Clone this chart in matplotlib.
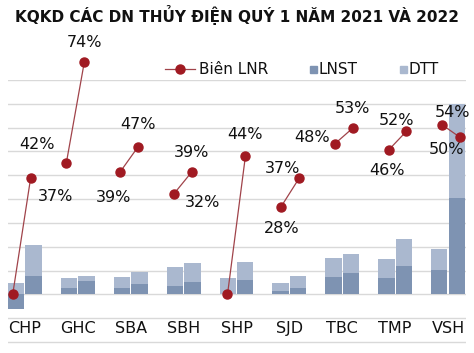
import matplotlib
matplotlib.use("Agg")
import matplotlib.pyplot as plt
from matplotlib.lines import Line2D
from matplotlib.patches import Rectangle
import numpy as np

# ---- data ----
companies = ["CHP", "GHC", "SBA", "SBH", "SHP", "SJD", "TBC", "TMP", "VSH"]
years = ["2021", "2022"]
dtt_2021 = [46, 68, 73, 113, 71, 49, 154, 149, 189]      # revenue
dtt_2022 = [208, 78, 94, 130, 137, 77, 168, 233, 800]
lnst_2021 = [-63, 29, 28, 36, 0, 14, 74, 69, 102]       # net profit
lnst_2022 = [77, 58, 44, 51, 60, 28, 89, 121, 403]
margin_2021 = [0, 42, 39, 32, 0, 28, 48, 46, 54]        # Biên LNR (%)
margin_2022 = [37, 74, 47, 39, 44, 37, 53, 52, 50]
margin_label_2021 = [None, "42%", "39%", "32%", None, "28%", "48%", "46%", "54%"]
margin_label_2022 = ["37%", "74%", "47%", "39%", "44%", "37%", "53%", "52%", "50%"]
legend_labels = ["Biên LNR", "LNST", "DTT"]

# ---- style / layout ----
W, H, DPI = 474, 353, 100
C_DTT = "#aab8cf"
C_LNST = "#7e93b2"
C_LINE = "#a0434a"
C_MARK = "#a01a22"
C_GRID = "#d9d9d9"
FONT = "DejaVu Sans"

# label offsets in pixels (dx, dy downward) relative to marker
off_2021 = [(0, 0), (-29, -18), (-7, 25), (29, 9), (0, 0), (0, 22), (-23, -6), (-2, 20), (10, -12)]
off_2022 = [(25, 18), (0, -20), (0, -22), (0, -20), (0, -22), (-17, -10), (0, -20), (-10, -11), (-14, 12)]

fig = plt.figure(figsize=(W / DPI, H / DPI), dpi=DPI)
ax_left, ax_right, ax_top, ax_bot = 8, 466, 80, 343.5
pos = [ax_left / W, 1 - ax_bot / H, (ax_right - ax_left) / W, (ax_bot - ax_top) / H]
ax = fig.add_axes(pos)

step = 100.0
ymin, ymax = -2.06 * step, 9 * step
ax.set_ylim(ymin, ymax)
x = np.arange(len(companies))
bw = 0.31
dx = 0.165
ax.set_xlim(-0.32, len(companies) - 1 + 0.34)
for k in range(-2, 10):
    ax.axhline(k * step, color=C_GRID, lw=1.0, zorder=0)

ax.bar(x - dx, dtt_2021, bw, color=C_DTT, zorder=2)
ax.bar(x + dx, dtt_2022, bw, color=C_DTT, zorder=2)
ax.bar(x - dx, lnst_2021, bw, color=C_LNST, zorder=3)
ax.bar(x + dx, lnst_2022, bw, color=C_LNST, zorder=3)

for i, c in enumerate(companies):
    ax.text(i, -1.45 * step, c, ha="center", va="center", fontsize=11.5, family=FONT, color="#111111")

ax.set_xticks([]); ax.set_yticks([])
for s in ax.spines.values():
    s.set_visible(False)

# ---- margin line on overlay axes (slots: 3 per company, third blank) ----
ax2 = fig.add_axes(pos, frameon=False)
slot_px = 17.9
first_px = 12.7
ax2.set_xlim((ax_left - first_px) / slot_px, (ax_right - first_px) / slot_px)
pct_per_unit = 7.59
ax2.set_ylim(ymin / step * pct_per_unit, ymax / step * pct_per_unit)
ax2.set_xticks([]); ax2.set_yticks([])

for i in range(len(companies)):
    xs = [3 * i, 3 * i + 1]
    ys = [margin_2021[i], margin_2022[i]]
    ax2.plot(xs, ys, color=C_LINE, lw=0.9, zorder=4, clip_on=False)
    ax2.plot(xs, ys, ls="none", marker="o", ms=6.5, mfc=C_MARK, mec=C_MARK, zorder=5, clip_on=False)
    for xv, yv, lab, off in ((xs[0], ys[0], margin_label_2021[i], off_2021[i]),
                             (xs[1], ys[1], margin_label_2022[i], off_2022[i])):
        if lab:
            ax2.annotate(lab, (xv, yv), xytext=(off[0], -off[1]), textcoords="offset pixels",
                         ha="center", va="center", fontsize=11.5, family=FONT, color="#111111",
                         annotation_clip=False)

# ---- title ----
fig.text(0.5, 1 - 15 / H, "KQKD CÁC DN THỦY ĐIỆN QUÝ 1 NĂM 2021 VÀ 2022", ha="center", va="center",
         fontsize=11, fontweight="bold", family=FONT, color="#111111")

# ---- legend (drawn manually in figure pixels) ----
def fx(px):
    return px / W

def fy(py):
    return 1 - py / H

ly = 69
fig.add_artist(Line2D([fx(165), fx(195)], [fy(ly), fy(ly)], color=C_LINE, lw=0.9,
                      transform=fig.transFigure))
fig.add_artist(Line2D([fx(180)], [fy(ly)], ls="none", marker="o", ms=6.5, mfc=C_MARK, mec=C_MARK,
                      transform=fig.transFigure))
fig.text(fx(199), fy(ly), legend_labels[0], ha="left", va="center", fontsize=11, family=FONT, color="#111111")
for sq_x, col, lab in ((310, C_LNST, legend_labels[1]), (400, C_DTT, legend_labels[2])):
    fig.add_artist(Rectangle((fx(sq_x), fy(ly + 3.5)), 7 / W, 7 / H, color=col, transform=fig.transFigure))
    fig.text(fx(sq_x + 9), fy(ly), lab, ha="left", va="center", fontsize=11, family=FONT, color="#111111")

fig.savefig("out.png", dpi=DPI)
